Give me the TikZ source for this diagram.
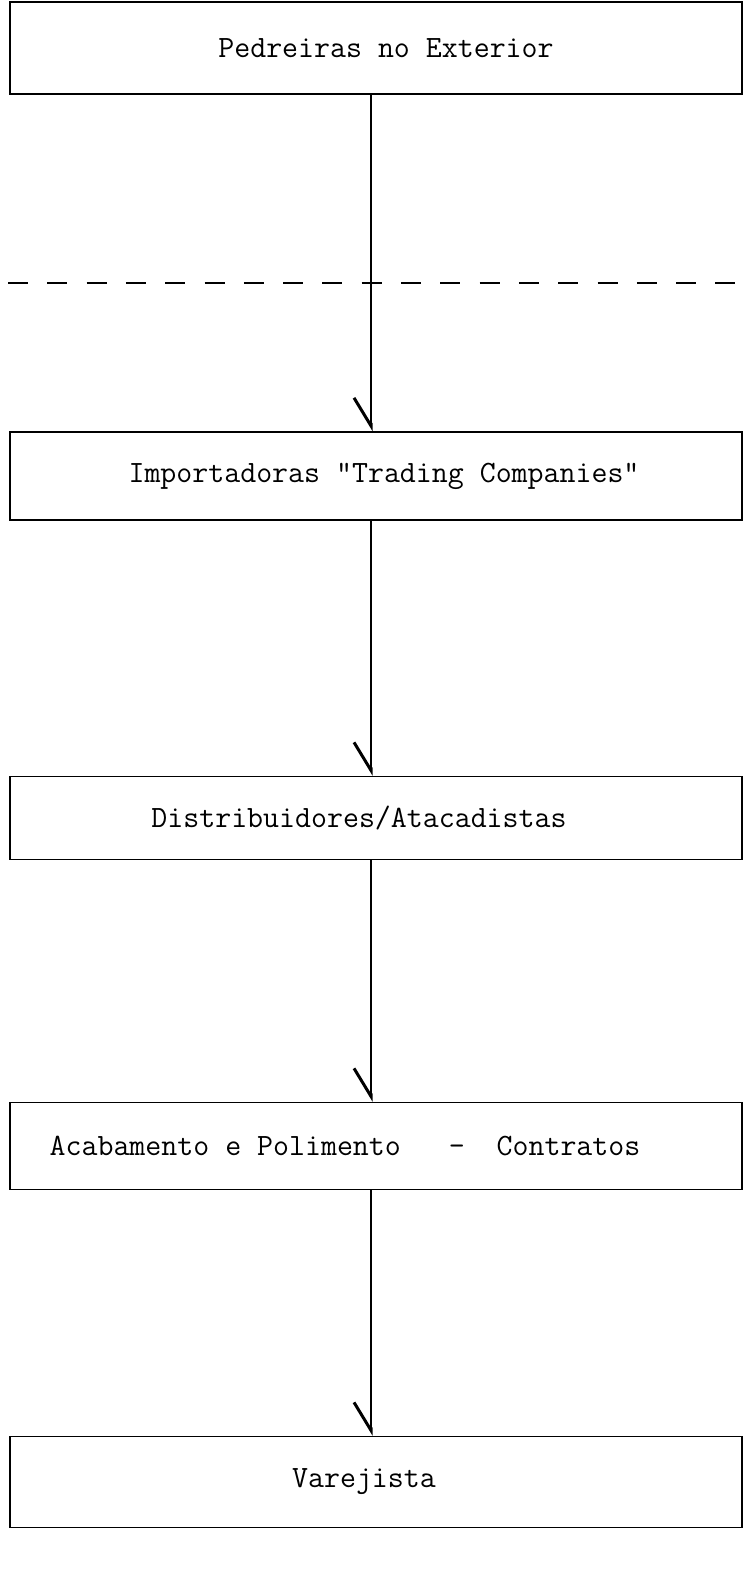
\documentclass[tikz,border=0pt]{standalone}
\usepackage{tikz}
\usetikzlibrary{arrows.meta, positioning}

\tikzset{
	box/.style={draw, line width=1.6pt, minimum width=732pt, inner sep=0pt},
	lbl/.style={font=\fontsize{31}{35}\selectfont\ttfamily, inner sep=0pt},
	link/.style={line width=1.4pt, -{Straight Barb[length=28pt, width=34pt, harpoon, swap, line width=3pt]}},
	plain/.style={line width=1.4pt},
	sep/.style={line width=1.6pt, dash pattern=on 20pt off 19.3pt}
}

\begin{document}
\begin{tikzpicture}[x=1pt, y=-1pt]
			\useasboundingbox (0, 0) rectangle (743, 1586);
			% Boxes:
			\node[box, minimum height=92pt](b1) at (376, 48){};
			\node[box, minimum height=88pt](b2) at (376, 476){};
			\node[box, minimum height=83pt](b3) at (376, 818){};
			\node[box, minimum height=87pt](b4) at (376, 1146){};
			\node[box, minimum height=91pt](b5) at (376, 1482){};
			% Texts:
			\node[lbl](t1) at ([xshift=10pt]b1.center){Pedreiras no Exterior};
			\node[lbl](t2) at ([xshift=8pt]b2.center){Importadoras "Trading Companies"};
			\node[lbl](t3) at ([xshift=-17pt]b3.center){Distribuidores/Atacadistas};
			\node[lbl](t4) at ([xshift=-31pt]b4.center){Acabamento e Polimento\ \ \ -\ \ Contratos};
			\node[lbl](t5) at ([xshift=-12pt]b5.center){Varejista};
			% Border line and links:
			\coordinate (spine) at (371, 0);
			\coordinate (dl) at (8, 283);
			\coordinate (dr) at (735, 283);
			\draw[sep] (dl) -- (dr);
			\draw[link] (b1.south -| spine) -- (b2.north -| spine);
			\draw[link] (b2.south -| spine) -- (b3.north -| spine);
			\draw[link] (b3.south -| spine) -- (b4.north -| spine);
			\draw[link] (b4.south -| spine) -- (b5.north -| spine);
\end{tikzpicture}
\end{document}
